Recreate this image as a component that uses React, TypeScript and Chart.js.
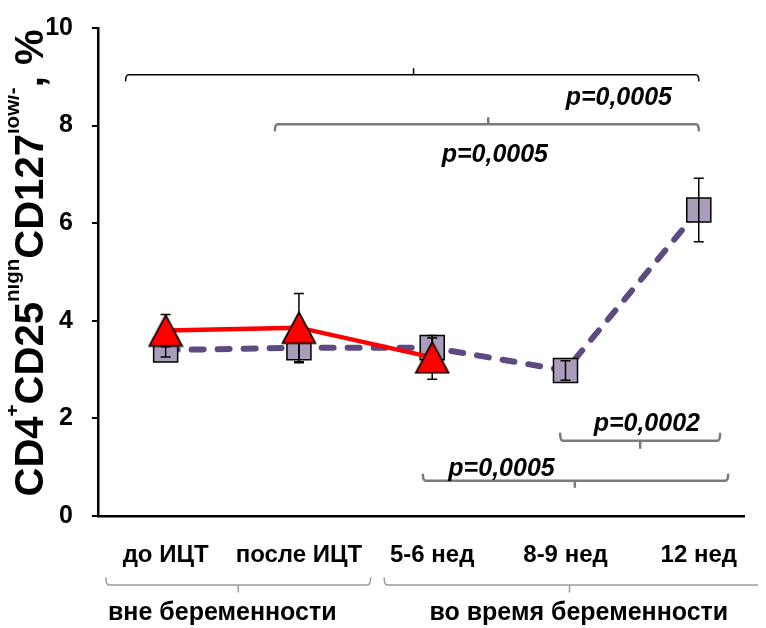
import { useEffect, useRef } from 'react';
import { Chart, registerables } from 'chart.js';

Chart.register(...registerables);

// ---- data ----
const categories = ['до ИЦТ', 'после ИЦТ', '5-6 нед', '8-9 нед', '12 нед'];
const groupLabels = ['вне беременности', 'во время беременности'];
const squareMeans = [3.4, 3.45, 3.45, 2.98, 6.27];
const squareErrors = [0.14, 0.31, 0.2, 0.2, 0.65];
const triangleMeans = [3.8, 3.86, 3.25];
const triangleErrors = [0.33, 0.7, 0.45];
const yTicks = [0, 2, 4, 6, 8, 10];
const pLabels = ['p=0,0005', 'p=0,0005', 'p=0,0002', 'p=0,0005'];
const yTitleParts = [
  { t: 'CD4', sup: false },
  { t: '+', sup: true },
  { t: 'CD25', sup: false },
  { t: 'high', sup: true },
  { t: 'CD127', sup: false },
  { t: 'low/-', sup: true },
  { t: ', %', sup: false },
];

const FONT = '"Liberation Sans", Arial, Helvetica, sans-serif';

function makeTriangle() {
  const c = document.createElement('canvas');
  c.width = 36;
  c.height = 34;
  const g = c.getContext('2d')!;
  g.beginPath();
  g.moveTo(18, 1.5);
  g.lineTo(34.5, 32.5);
  g.lineTo(1.5, 32.5);
  g.closePath();
  g.fillStyle = '#FF0000';
  g.fill();
  g.lineWidth = 1.6;
  g.strokeStyle = '#000';
  g.stroke();
  return c;
}

function drawErrorBars(chart: any, means: number[], errs: number[]) {
  const ctx = chart.ctx;
  const xs = chart.scales.x;
  const ys = chart.scales.y;
  ctx.save();
  ctx.strokeStyle = '#000';
  ctx.lineWidth = 1.5;
  means.forEach((m, i) => {
    const x = xs.getPixelForValue(i);
    const yt = ys.getPixelForValue(m + errs[i]);
    const yb = ys.getPixelForValue(m - errs[i]);
    ctx.beginPath();
    ctx.moveTo(x, yt);
    ctx.lineTo(x, yb);
    ctx.moveTo(x - 5, yt);
    ctx.lineTo(x + 5, yt);
    ctx.moveTo(x - 5, yb);
    ctx.lineTo(x + 5, yb);
    ctx.stroke();
  });
  ctx.restore();
}

function bracket(
  ctx: CanvasRenderingContext2D,
  x1: number, x2: number, y: number, xm: number,
  endDir: number, midDir: number, color: string, width: number, hook = 6
) {
  ctx.save();
  ctx.strokeStyle = color;
  ctx.lineWidth = width;
  ctx.lineCap = 'round';
  ctx.lineJoin = 'round';
  ctx.beginPath();
  ctx.moveTo(x1, y + endDir * hook);
  ctx.quadraticCurveTo(x1, y, x1 + 3, y);
  ctx.lineTo(x2 - 3, y);
  ctx.quadraticCurveTo(x2, y, x2, y + endDir * hook);
  ctx.moveTo(xm, y);
  ctx.lineTo(xm, y + midDir * hook);
  ctx.stroke();
  ctx.restore();
}

const overlay = {
  id: 'overlay',
  beforeDatasetDraw(chart: any, args: any) {
    if (args.index === 1) drawErrorBars(chart, triangleMeans, triangleErrors);
  },
  afterDatasetDraw(chart: any, args: any) {
    if (args.index === 0) drawErrorBars(chart, squareMeans, squareErrors);
  },
  afterDraw(chart: any) {
    const ctx: CanvasRenderingContext2D = chart.ctx;
    const xs = chart.scales.x;
    const ys = chart.scales.y;
    const X = (v: number) => xs.getPixelForValue(v);
    const Y = (v: number) => ys.getPixelForValue(v);

    // significance brackets
    bracket(ctx, X(-0.3), X(4.0), Y(9.04), X(1.86), 1, -1, '#000', 1.5, 6);
    bracket(ctx, X(0.82), X(4.0), Y(8.03), X(2.42), 1, -1, '#7a7a7a', 2.5, 6);
    bracket(ctx, X(2.96), X(4.16), Y(1.54), X(3.56), -1, 1, '#7a7a7a', 2.5, 7);
    bracket(ctx, X(1.93), X(4.22), Y(0.72), X(3.07), -1, 1, '#7a7a7a', 2.5, 6);

    ctx.save();
    ctx.fillStyle = '#000';
    ctx.font = `italic bold 25px ${FONT}`;
    ctx.textAlign = 'center';
    ctx.textBaseline = 'alphabetic';
    ctx.fillText(pLabels[0], X(3.4), Y(8.42));
    ctx.fillText(pLabels[1], X(2.47), Y(7.25));
    ctx.fillText(pLabels[2], X(3.61), Y(1.74));
    ctx.fillText(pLabels[3], X(2.52), Y(0.82));
    ctx.restore();

    // category labels
    ctx.save();
    ctx.fillStyle = '#000';
    ctx.font = `bold 24px ${FONT}`;
    ctx.textAlign = 'center';
    ctx.textBaseline = 'alphabetic';
    const base = ys.bottom + 46;
    categories.forEach((c, i) => ctx.fillText(c, X(i), base));
    ctx.restore();

    // group brackets and labels
    const gy = ys.bottom + 69;
    bracket(ctx, X(-0.448), X(1.537), gy, X(0.545), -1, 1, '#9a9a9a', 1.5, 7);
    bracket(ctx, X(1.64), X(4.7), gy, X(3.03), -1, 1, '#9a9a9a', 1.5, 7);
    ctx.save();
    ctx.fillStyle = '#000';
    ctx.font = `bold 25px ${FONT}`;
    ctx.textAlign = 'center';
    ctx.textBaseline = 'alphabetic';
    ctx.fillText(groupLabels[0], X(0.425), ys.bottom + 104);
    ctx.fillText(groupLabels[1], X(3.1), ys.bottom + 104);
    ctx.restore();

    // y axis title (rotated, with superscripts)
    const mainFont = `bold 41px ${FONT}`;
    const supFont = `bold 21px ${FONT}`;
    ctx.save();
    let W = 0;
    const widths = yTitleParts.map((p) => {
      ctx.font = p.sup ? supFont : mainFont;
      const w = ctx.measureText(p.t).width;
      W += w;
      return w;
    });
    const target = 467;
    const sx = target / W;
    ctx.translate(43, 263);
    ctx.rotate(-Math.PI / 2);
    ctx.scale(sx, 1);
    ctx.fillStyle = '#000';
    ctx.textAlign = 'left';
    ctx.textBaseline = 'alphabetic';
    let cx = -W / 2;
    yTitleParts.forEach((p, i) => {
      ctx.font = p.sup ? supFont : mainFont;
      ctx.fillText(p.t, cx, p.sup ? -24 : 0);
      cx += widths[i];
    });
    ctx.restore();
  },
};

export default function App() {
  const ref = useRef<HTMLCanvasElement | null>(null);
  useEffect(() => {
    const canvas = ref.current!;
    const tri = makeTriangle();
    const chart = new Chart(canvas, {
      type: 'line',
      data: {
        datasets: [
          {
            label: 'squares',
            data: squareMeans.map((y, i) => ({ x: i, y })),
            borderColor: '#5D4A82',
            borderWidth: 6,
            borderDash: [12, 14],
            borderCapStyle: 'round',
            pointStyle: 'rect',
            pointRadius: 17,
            pointBackgroundColor: '#A99DBB',
            pointBorderColor: '#000',
            pointBorderWidth: 1.5,
            tension: 0,
            order: 2,
          } as any,
          {
            label: 'triangles',
            data: triangleMeans.map((y, i) => ({ x: i, y })),
            borderColor: '#FF0000',
            borderWidth: 4.5,
            pointStyle: tri,
            pointRadius: 17,
            tension: 0,
            order: 1,
          } as any,
        ],
      },
      options: {
        animation: false,
        responsive: false,
        layout: { padding: { left: 0, top: 28, right: 0, bottom: 112 } },
        plugins: { legend: { display: false }, tooltip: { enabled: false } },
        scales: {
          x: {
            type: 'linear',
            min: -0.5075,
            max: 4.343,
            ticks: { display: false },
            grid: { display: false, drawTicks: false },
            border: { display: true, color: '#000', width: 2.5 },
            afterFit: (s: any) => {
              s.height = 0;
              s.paddingLeft = 0;
              s.paddingRight = 0;
            },
          },
          y: {
            type: 'linear',
            min: 0,
            max: 10,
            afterBuildTicks: (s: any) => {
              s.ticks = yTicks.map((v) => ({ value: v }));
            },
            ticks: {
              color: '#000',
              padding: 19,
              font: { family: FONT, size: 25, weight: 'bold' },
            },
            grid: {
              display: true,
              drawOnChartArea: false,
              drawTicks: true,
              tickLength: 6,
              color: '#000',
              lineWidth: 2,
            },
            border: { display: true, color: '#000', width: 2.5 },
            afterFit: (s: any) => {
              s.width = 98;
              s.paddingTop = 0;
              s.paddingBottom = 0;
            },
          },
        },
      } as any,
      plugins: [overlay],
    });
    return () => chart.destroy();
  }, []);
  return (
    <div style={{ width: 766, height: 628, margin: '-8px 0 0 -8px' }}>
      <canvas ref={ref} width={766} height={628} style={{ display: 'block' }} />
    </div>
  );
}
